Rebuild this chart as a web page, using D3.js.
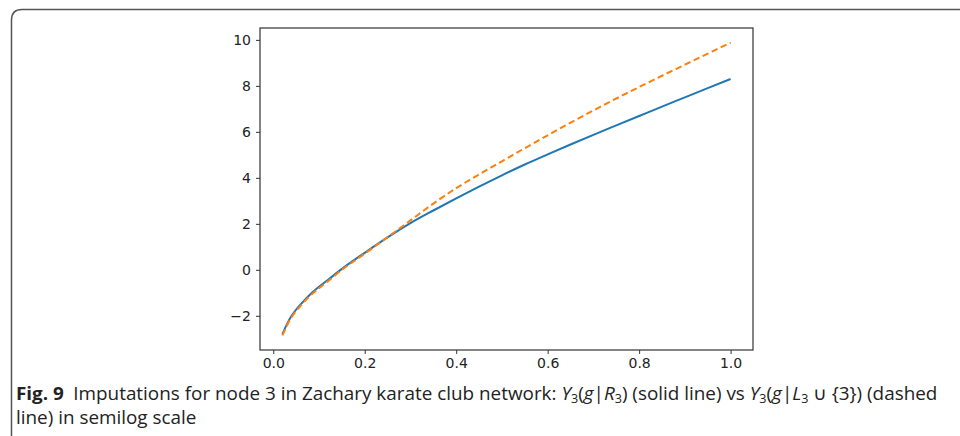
<!DOCTYPE html>
<html>
<head>
<meta charset="utf-8">
<script src="https://cdn.jsdelivr.net/npm/d3@7/dist/d3.min.js"></script>
<style>
  html, body { margin: 0; padding: 0; background: #fff; }
  svg { display: block; }
</style>
</head>
<body>
<svg id="chart" width="960" height="436"></svg>
<script>
// ---- data ----
const xValues = [0.02, 0.03, 0.04, 0.05, 0.06, 0.08, 0.10, 0.12, 0.15, 0.20, 0.25, 0.30, 0.35, 0.40, 0.45, 0.50, 0.55, 0.60, 0.65, 0.70, 0.75, 0.80, 0.85, 0.90, 0.95, 1.00];
const solidValues = [-2.80, -2.36, -2.00, -1.73, -1.50, -1.08, -0.74, -0.43, 0.04, 0.74, 1.41, 2.03, 2.58, 3.11, 3.62, 4.11, 4.58, 5.02, 5.45, 5.87, 6.28, 6.69, 7.10, 7.50, 7.90, 8.30];
const dashedValues = [-2.85, -2.42, -2.06, -1.79, -1.56, -1.14, -0.80, -0.49, 0.00, 0.70, 1.42, 2.15, 2.88, 3.55, 4.15, 4.72, 5.29, 5.85, 6.40, 6.93, 7.45, 7.95, 8.44, 8.92, 9.40, 9.88];
const xTicks = [0.0, 0.2, 0.4, 0.6, 0.8, 1.0];
const yTicks = [-2, 0, 2, 4, 6, 8, 10];

const svg = d3.select("#chart");

// frame around figure (top and left edge with rounded corner)
svg.append("path")
  .attr("d", "M11.5,436 L11.5,20 Q11.5,9.5 22,9.5 L960,9.5")
  .attr("fill", "none").attr("stroke", "#555").attr("stroke-width", 1.5);

const plot = { left: 260, right: 753, top: 28, bottom: 350 };

const xMin = d3.min(xValues), xMax = d3.max(xValues);
const yMin = d3.min(solidValues.concat(dashedValues)), yMax = d3.max(solidValues.concat(dashedValues));
const xPad = (xMax - xMin) * 0.05, yPad = (yMax - yMin) * 0.05;

const x = d3.scaleLinear().domain([xMin - xPad, xMax + xPad]).range([plot.left, plot.right]);
const y = d3.scaleLinear().domain([yMin - yPad, yMax + yPad]).range([plot.bottom, plot.top]);

const fmtX = d3.format(".1f");
const fmtY = v => (v < 0 ? "\u2212" + Math.abs(v) : String(v));

const xAxis = svg.append("g")
  .attr("transform", `translate(0,${plot.bottom})`)
  .call(d3.axisBottom(x).tickValues(xTicks).tickFormat(fmtX).tickSize(4).tickSizeOuter(0).tickPadding(4));
const yAxis = svg.append("g")
  .attr("transform", `translate(${plot.left},0)`)
  .call(d3.axisLeft(y).tickValues(yTicks).tickFormat(fmtY).tickSize(4).tickSizeOuter(0).tickPadding(5));

[xAxis, yAxis].forEach(g => {
  g.attr("font-size", null).attr("font-family", null);
  g.select(".domain").remove();
  g.selectAll(".tick line").attr("stroke", "#333").attr("stroke-width", 1);
  g.selectAll(".tick text").attr("fill", "#222")
    .attr("font-family", "'DejaVu Sans', sans-serif").attr("font-size", 14);
});

// spines
svg.append("rect")
  .attr("x", plot.left).attr("y", plot.top)
  .attr("width", plot.right - plot.left).attr("height", plot.bottom - plot.top)
  .attr("fill", "none").attr("stroke", "#333").attr("stroke-width", 1.2);

const line = d3.line().x(d => x(d[0])).y(d => y(d[1])).curve(d3.curveMonotoneX);

svg.append("path")
  .datum(xValues.map((v, i) => [v, solidValues[i]]))
  .attr("d", line).attr("fill", "none")
  .attr("stroke", "#1f77b4").attr("stroke-width", 2);

svg.append("path")
  .datum(xValues.map((v, i) => [v, dashedValues[i]]))
  .attr("d", line).attr("fill", "none")
  .attr("stroke", "#ff7f0e").attr("stroke-width", 2)
  .attr("stroke-dasharray", "6.5,3.5");

// caption
const capG = svg.append("g");
const cap = capG.append("text")
  .attr("x", 0).attr("y", 0)
  .style("font-family", "'Open Sans', 'Noto Sans', sans-serif")
  .style("font-size", "18px").attr("fill", "#222");

const sub = (parent, t) => parent.append("tspan").attr("baseline-shift", "-25%").style("font-size", "12px").text(t);
const l1 = cap.append("tspan").attr("x", 0).attr("y", 0);
l1.append("tspan").style("font-weight", "bold").text("Fig. 9");
l1.append("tspan").text("\u2002Imputations for node 3 in Zachary karate club network: ");
l1.append("tspan").style("font-style", "italic").text("Y");
sub(l1, "3");
l1.append("tspan").text("(");
l1.append("tspan").style("font-style", "italic").text("g");
l1.append("tspan").text("|");
l1.append("tspan").style("font-style", "italic").text("R");
sub(l1, "3");
l1.append("tspan").text(") (solid line) vs ");
l1.append("tspan").style("font-style", "italic").text("Y");
sub(l1, "3");
l1.append("tspan").text("(");
l1.append("tspan").style("font-style", "italic").text("g");
l1.append("tspan").text("|");
l1.append("tspan").style("font-style", "italic").text("L");
sub(l1, "3");
l1.append("tspan").text(" \u222A {3}) (dashed");

cap.append("tspan").attr("x", 0).attr("y", 24).text("line) in semilog scale");

// condense horizontally to match the reference's narrow caption face
const w = l1.node().getComputedTextLength();
const sx = 922 / w;
capG.attr("transform", `translate(16,400) scale(${sx.toFixed(4)},1)`);
</script>
</body>
</html>
